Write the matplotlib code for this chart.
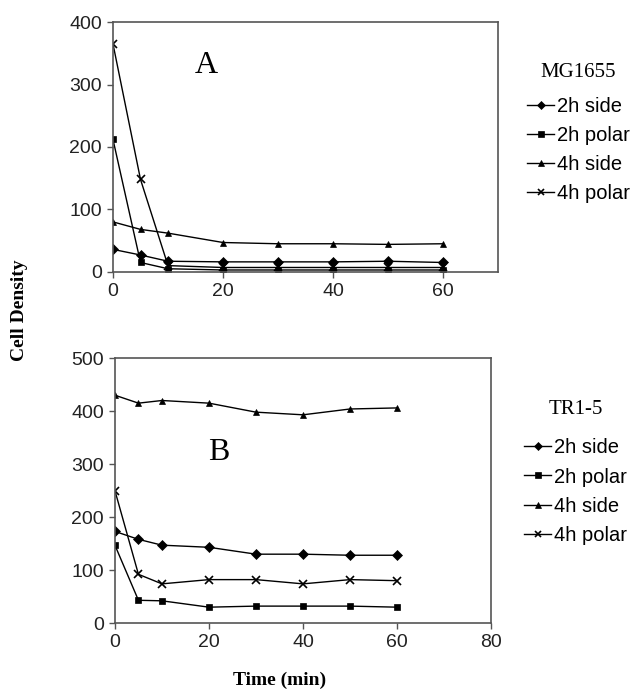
import matplotlib.pyplot as plt

times = [0, 5, 10, 20, 30, 40, 50, 60]
labels = ["2h side", "2h polar", "4h side", "4h polar"]
markers = ["D", "s", "^", "x"]

# panel A, MG1655
mg_2h_side = [36, 27, 17, 16, 16, 16, 17, 15]
mg_2h_polar = [212, 15, 5, 3, 3, 3, 3, 3]
mg_4h_side = [80, 68, 62, 47, 45, 45, 44, 45]
mg_4h_polar = [365, 148, 10, 7, 7, 7, 7, 7]

# panel B, TR1-5
tr_2h_side = [173, 158, 147, 143, 130, 130, 128, 128]
tr_2h_polar = [147, 43, 42, 30, 32, 32, 32, 30]
tr_4h_side = [430, 415, 420, 415, 398, 393, 404, 406]
tr_4h_polar = [250, 92, 74, 82, 82, 74, 82, 80]

tick_font = "Liberation Sans"
serif = "Liberation Serif"

fig = plt.figure(figsize=(6.42, 6.9), dpi=100)
ax1 = fig.add_axes([0.176, 0.606, 0.600, 0.362])
ax2 = fig.add_axes([0.179, 0.097, 0.586, 0.384])


def draw(ax, series, xmax, ymax, ystep, letter, lx, ly, title, legpos, sep):
    for ys, m, lab in zip(series, markers, labels):
        ms = 6 if m == "x" else 5
        ax.plot(times, ys, color="black", lw=1, marker=m, ms=ms, mew=1.2 if m == "x" else 0.5, label=lab)
    ax.set_xlim(0, xmax)
    ax.set_ylim(0, ymax)
    ax.set_xticks(range(0, xmax + 1, 20))
    ax.set_yticks(range(0, ymax + 1, ystep))
    for s in ax.spines.values():
        s.set_color("#555555")
        s.set_linewidth(1.2)
    ax.tick_params(direction="out", length=4, width=1, color="#555555", labelsize=14, pad=4)
    for t in ax.get_xticklabels() + ax.get_yticklabels():
        t.set_fontfamily(tick_font)
        t.set_color("#222222")
    ax.text(lx, ly, letter, fontsize=23, fontfamily=serif, ha="center", va="center")
    leg = fig.legend(ax.get_lines(), labels, loc="upper left", bbox_to_anchor=legpos,
                     frameon=False, title=title, handlelength=1.35, handletextpad=0.15,
                     labelspacing=0.5, borderpad=0, borderaxespad=0, markerscale=0.8,
                     prop={"family": tick_font, "size": 14.5})
    leg.get_title().set_fontfamily(serif)
    leg.get_title().set_fontsize(15)
    leg._legend_box.sep = sep


draw(ax1, [mg_2h_side, mg_2h_polar, mg_4h_side, mg_4h_polar], 70, 400, 100,
     "A", 17, 330, "MG1655", (527 / 642, 1 - 63 / 690), 11)
draw(ax2, [tr_2h_side, tr_2h_polar, tr_4h_side, tr_4h_polar], 80, 500, 100,
     "B", 22, 322, "TR1-5", (524 / 642, 1 - 400 / 690), 14)

fig.text(20 / 642, 1 - 310 / 690, "Cell Density", rotation=90, fontsize=14,
         fontweight="bold", fontfamily=serif, ha="center", va="center")
fig.text(280 / 642, 1 - 680 / 690, "Time (min)", fontsize=14,
         fontweight="bold", fontfamily=serif, ha="center", va="center")

fig.savefig("out.png", dpi=100)
